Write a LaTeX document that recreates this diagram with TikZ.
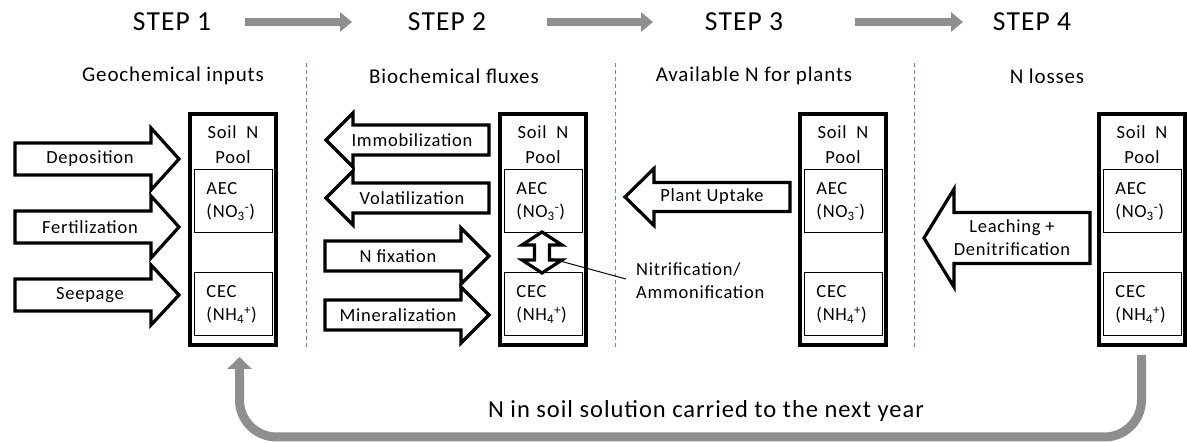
\documentclass[tikz,border=0pt]{standalone}
\usepackage{fontspec}
\setmainfont{Carlito}[LetterSpace=4]
\usetikzlibrary{arrows.meta}
\definecolor{arrgray}{HTML}{8E8E8E}
\definecolor{divblue}{HTML}{5B8BC9}
\tikzset{
  steptitle/.style={font=\fontsize{27.5}{29}\selectfont, inner sep=0pt},
  header/.style={font=\fontsize{21}{24}\selectfont, inner sep=0pt},
  lbl/.style={font=\fontsize{18.5}{23}\selectfont, inner sep=0pt},
  bottomtxt/.style={font=\fontsize{24.5}{26}\selectfont, inner sep=0pt},
  outerbox/.style={draw, line width=4.5pt, minimum width=86pt, minimum height=231pt, inner sep=0pt},
  innerbox/.style={draw, line width=1pt, minimum width=77.5pt, minimum height=63pt, inner sep=0pt},
  blockarrow/.style={draw, line width=3.2pt, line join=miter, fill=white},
  steparrow/.style={draw=arrgray, line width=8pt, -{Triangle[length=12pt,width=19pt]}},
  looparrow/.style={draw=arrgray, line width=9pt, rounded corners=37pt, -{Triangle[length=12pt,width=24pt]}},
  divider/.style={draw=divblue, line width=1pt, dash pattern=on 4pt off 3pt},
  annot/.style={draw, line width=1pt}
}
% #1 name, #2 tail x, #3 tip x, #4 center y, #5 body half, #6 head half, #7 signed head length, #8 text x, #9 text
\newcommand{\barrow}[9]{%
  \draw[blockarrow] ({#2},{#4-#5}) -- ({#3-(#7)},{#4-#5}) -- ({#3-(#7)},{#4-#6}) -- ({#3},{#4})
     -- ({#3-(#7)},{#4+#6}) -- ({#3-(#7)},{#4+#5}) -- ({#2},{#4+#5}) -- cycle;
  \node[lbl, align=center] (#1) at (#8,#4) {#9};
}
% #1 name, #2 center x
\newcommand{\soilpool}[2]{%
  \node[outerbox] (#1) at (#2,229.5) {};
  \node[lbl, align=center] (#1t) at (#2,144.5) {Soil\ \ N\\[2pt]Pool};
  \node[innerbox] (#1aec) at ({#2+0.5},201.5) {};
  \node[innerbox] (#1cec) at ({#2+0.5},304.5) {};
  \node[lbl, align=left, anchor=west] (#1aect) at ([xshift=12pt]#1aec.west) {AEC\\(NO\textsubscript{3}\textsuperscript{-})};
  \node[lbl, align=left, anchor=west] (#1cect) at ([xshift=12pt]#1cec.west) {CEC\\(NH\textsubscript{4}\textsuperscript{+})};
}
\begin{document}
\begin{tikzpicture}[x=1pt,y=-1pt]
\useasboundingbox (0,0) rectangle (1187,443);
% step titles
\node[steptitle] (s1) at (172,22) {STEP 1};
\node[steptitle] (s2) at (447,22) {STEP 2};
\node[steptitle] (s3) at (744,22) {STEP 3};
\node[steptitle] (s4) at (1032,22) {STEP 4};
\coordinate (a1s) at (245,22); \coordinate (a1e) at (352,22);
\coordinate (a2s) at (547,22); \coordinate (a2e) at (653,22);
\coordinate (a3s) at (855,22); \coordinate (a3e) at (963,22);
\draw[steparrow] (a1s) -- (a1e);
\draw[steparrow] (a2s) -- (a2e);
\draw[steparrow] (a3s) -- (a3e);
% headers
\node[header] (h1) at (173,76) {Geochemical inputs};
\node[header] (h2) at (454,76) {Biochemical fluxes};
\node[header] (h3) at (754,76) {Available N for plants};
\node[header] (h4) at (1047,76) {N losses};
% dividers
\coordinate (d1t) at (306,63); \coordinate (d1b) at (306,347);
\coordinate (d2t) at (615,63); \coordinate (d2b) at (615,347);
\coordinate (d3t) at (914,63); \coordinate (d3b) at (914,347);
\draw[divider] (d1t) -- (d1b);
\draw[divider] (d2t) -- (d2b);
\draw[divider] (d3t) -- (d3b);
% soil pools
\soilpool{b1}{233}
\soilpool{b2}{543}
\soilpool{b3}{843}
\soilpool{b4}{1142}
% step 1 arrows
\barrow{dep}{15}{179}{159}{16}{31}{28}{90}{Deposition}
\barrow{fer}{15}{179}{227}{16}{31}{28}{90}{Fertilization}
\barrow{see}{15}{179}{295}{16}{30}{28}{90}{Seepage}
% step 2 arrows
\barrow{imm}{489}{326}{140}{15}{27}{-27}{412}{Immobilization}
\barrow{vol}{489}{326}{198}{15}{27}{-27}{412}{Volatilization}
\barrow{nfix}{325}{489}{256}{15}{28}{28}{398}{N fixation}
\barrow{min}{325}{489}{315}{15}{28}{28}{398}{Mineralization}
% double arrow inside pool 2
\draw[blockarrow] (542,232) -- (562,245) -- (549.5,245) -- (549.5,260) -- (562,260) -- (542,273)
   -- (522,260) -- (534.5,260) -- (534.5,245) -- (522,245) -- cycle;
\node[lbl, align=left, anchor=west] (nitr) at (636,281) {Nitrification/\\Ammonification};
\coordinate (nl1) at (549,258);
\coordinate (nl2) at (626,279);
\draw[annot] (nl1) -- (nl2);
% step 3 arrow
\barrow{upt}{790}{625}{197}{14.5}{28.5}{-29}{712}{Plant Uptake}
% step 4 arrow
\barrow{lea}{1090}{924}{238}{25.5}{49}{-30}{1012}{Leaching +\\Denitrification}
% loop arrow
\coordinate (ls) at (1141.5,355);
\coordinate (le) at (239.5,357);
\draw[looparrow] (ls) -- (1141.5,437) -- (239.5,437) -- (le);
\node[bottomtxt] (nt) at (706,411) {N in soil solution carried to the next year};
\end{tikzpicture}
\end{document}
